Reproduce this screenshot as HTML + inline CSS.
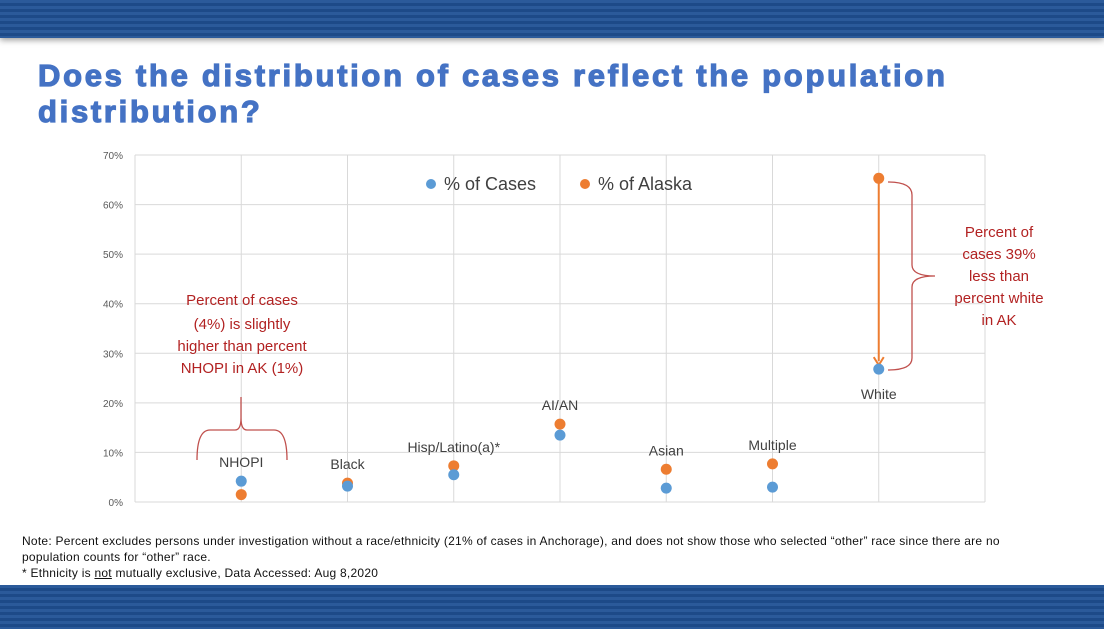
<!DOCTYPE html>
<html><head><meta charset="utf-8"><style>
body{margin:0;width:1104px;height:629px;overflow:hidden;background:#fff;font-family:"Liberation Sans",sans-serif;position:relative}
.band{position:absolute;left:0;width:1104px;background:repeating-linear-gradient(#2b5a9a 0 3px,#1d4a88 3px 6px)}
.title{position:absolute;left:38px;top:58px;font-weight:bold;font-size:31px;line-height:36px;color:#4472c4;letter-spacing:2.7px;-webkit-text-stroke:1.2px #4472c4}
.note{position:absolute;left:22px;font-size:12px;letter-spacing:0.25px;color:#111;white-space:nowrap}
</style></head><body>
<div class="band" style="top:0;height:38px;box-shadow:0 2px 6px #999"></div>
<div class="title">Does the distribution of cases reflect the population<br>distribution?</div>
<svg id="chart" width="1104" height="629" style="position:absolute;left:0;top:0"></svg>
<div class="note" style="top:534px">Note: Percent excludes persons under investigation without a race/ethnicity (21% of cases in Anchorage), and does not show those who selected “other” race since there are no</div>
<div class="note" style="top:550px">population counts for “other” race.</div>
<div class="note" style="top:566px">* Ethnicity is <u>not</u> mutually exclusive, Data Accessed: Aug 8,2020</div>
<div class="band" style="top:585px;height:44px"></div>
<script>
const categories=["NHOPI","Black","Hisp/Latino(a)*","AI/AN","Asian","Multiple","White"];
const casesPct=[4.2,3.2,5.5,13.5,2.8,3.0,26.8];
const alaskaPct=[1.5,3.8,7.3,15.7,6.6,7.7,65.3];
const yTicks=[0,10,20,30,40,50,60,70];
const NS="http://www.w3.org/2000/svg";
const svg=document.getElementById('chart');
const L=135,R=985,T=155,B=502;
const x=i=>L+(i+1)*(R-L)/(categories.length+1);
const y=v=>B-(v/70)*(B-T);
function el(t,a,txt){const e=document.createElementNS(NS,t);for(const k in a)e.setAttribute(k,a[k]);if(txt!=null)e.textContent=txt;svg.appendChild(e);return e;}
yTicks.forEach(v=>{
 const g=el('line',{x1:L,x2:R,y1:y(v),y2:y(v),stroke:'#d9d9d9','stroke-width':1});
 
 
 const t=el('text',{x:123,y:y(v)+4,'text-anchor':'end','font-size':10,fill:'#595959'},v+'%');
 
 
});
[L,R].forEach(xx=>{const g=el('line',{x1:xx,x2:xx,y1:T,y2:B,stroke:'#d9d9d9'});
 
 });
categories.forEach((c,i)=>{
 const g=el('line',{x1:x(i),x2:x(i),y1:T,y2:B,stroke:'#d9d9d9'});
 
 
});
const wi=6;
el('line',{x1:x(wi),x2:x(wi),y1:y(alaskaPct[wi]),y2:y(casesPct[wi])-8,stroke:'#ed7d31','stroke-width':2});
el('path',{d:`M${x(wi)-5} ${y(casesPct[wi])-12} L${x(wi)} ${y(casesPct[wi])-4} L${x(wi)+5} ${y(casesPct[wi])-12}`,fill:'none',stroke:'#ed7d31','stroke-width':2});
categories.forEach((c,i)=>{
 const top=Math.max(casesPct[i],alaskaPct[i]);
 const ly=i==6?y(casesPct[i])+30:y(top)-14;
 const t=el('text',{x:x(i),y:ly,'text-anchor':'middle','font-size':14,fill:'#404040'},c);
 
 
 const a=el('circle',{cx:x(i),cy:y(alaskaPct[i]),r:5.5,fill:'#ed7d31'});
 
 
 const p=el('circle',{cx:x(i),cy:y(casesPct[i]),r:5.5,fill:'#5b9bd5'});
 
 
});
const lg1=el('circle',{cx:431,cy:184,r:5,fill:'#5b9bd5'});
const lt1=el('text',{x:444,y:190,'font-size':18,fill:'#404040'},'% of Cases');
const lg2=el('circle',{cx:585,cy:184,r:5,fill:'#ed7d31'});
const lt2=el('text',{x:598,y:190,'font-size':18,fill:'#404040'},'% of Alaska');
el('path',{d:'M197 460 Q197 430 210 430 L235 430 Q241 430 241 418 L241 397 L241 418 Q241 430 247 430 L274 430 Q287 430 287 460',fill:'none',stroke:'#c0504d','stroke-width':1.3});
el('path',{d:'M888 182 Q912 182 912 195 L912 265 Q912 276 935 276 Q912 276 912 287 L912 358 Q912 370 888 370',fill:'none',stroke:'#c0504d','stroke-width':1.3});
const red='#b22222';
[["Percent of cases",305],["(4%) is slightly",329],["higher than percent",351],["NHOPI in AK (1%)",373]].forEach(([s,yy])=>{
 const t=el('text',{x:242,y:yy,'text-anchor':'middle','font-size':15,fill:red},s);
 });
[["Percent of",237],["cases 39%",259],["less than",281],["percent white",303],["in AK",325]].forEach(([s,yy])=>{
 const t=el('text',{x:999,y:yy,'text-anchor':'middle','font-size':15,fill:red},s);
 });
</script>
</body></html>
